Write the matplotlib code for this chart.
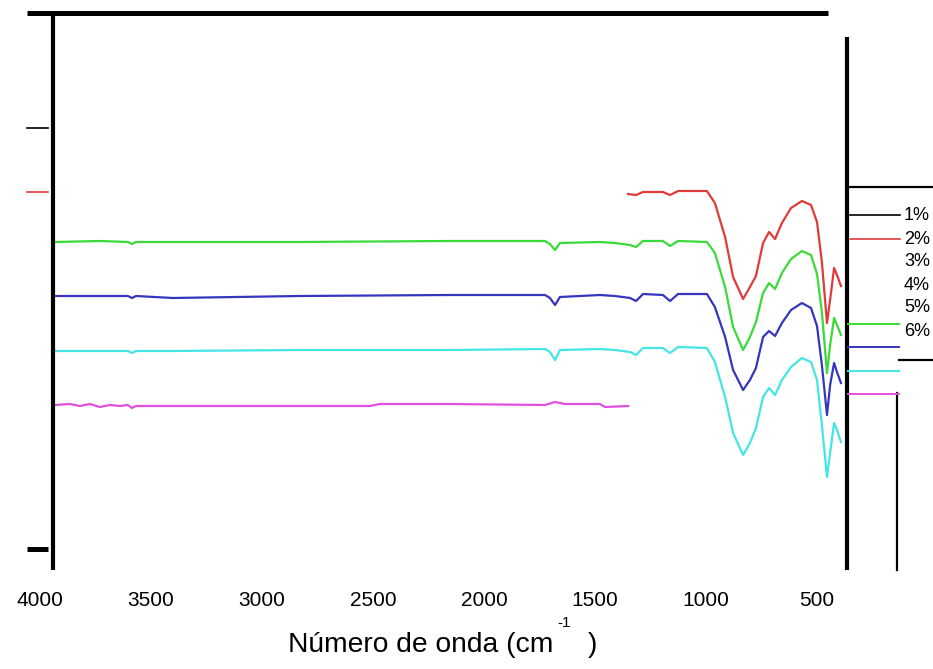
import matplotlib
matplotlib.use('Agg')
import matplotlib.pyplot as plt

plt.rcParams['font.family'] = ['Liberation Sans', 'DejaVu Sans']

# numero de onda (cm-1) de los puntos leidos
onda = [3932, 3730, 3604, 3586, 3568, 3401, 2829, 2153, 1725, 1703, 1680, 1658,
        1478, 1410, 1342, 1315, 1284, 1194, 1162, 1126, 996, 960, 914, 878, 833,
        802, 775, 743, 716, 689, 658, 617, 568, 527, 500, 478, 455, 441, 423, 410, 392]

verde = [42.7, 42.8, 42.7, 42.5, 42.7, 42.7, 42.7, 42.8, 42.8, 42.5, 41.9, 42.6,
         42.7, 42.6, 42.4, 42.2, 42.8, 42.8, 42.3, 42.8, 42.7, 41.6, 38.2, 34.2, 31.9,
         33.2, 34.7, 37.6, 38.6, 38.0, 39.6, 41.0, 41.8, 41.4, 39.5, 35.7, 29.6, 32.4, 35.1, 34.4, 33.4]

azul = [37.3, 37.3, 37.3, 37.1, 37.3, 37.1, 37.3, 37.4, 37.4, 37.1, 36.4, 37.2,
        37.4, 37.3, 37.1, 36.8, 37.5, 37.4, 36.8, 37.5, 37.5, 36.2, 33.2, 29.9, 27.9,
        28.9, 30.1, 33.2, 33.8, 33.3, 34.6, 35.9, 36.6, 36.1, 34.3, 30.4, 25.4, 28.4, 30.6, 29.7, 28.6]

cian = [31.8, 31.8, 31.8, 31.6, 31.8, 31.8, 31.9, 31.9, 32.0, 31.7, 30.9, 31.9,
        32.0, 31.9, 31.7, 31.4, 32.1, 32.1, 31.6, 32.2, 32.1, 30.7, 27.2, 23.6, 21.4,
        22.6, 24.1, 27.2, 28.1, 27.4, 28.9, 30.2, 31.1, 30.7, 28.9, 24.4, 19.2, 21.6, 24.6, 23.9, 22.7]

onda_rojo = [1351] + onda[15:]
rojo = [47.5, 47.4, 47.7, 47.7, 47.4, 47.8, 47.8, 46.6, 43.2, 39.2, 37.0,
        38.2, 39.3, 42.6, 43.7, 43.0, 44.6, 46.1, 46.8, 46.4, 44.7, 40.7, 34.6, 36.9, 40.1, 39.4, 38.3]

onda_magenta = [3932, 3865, 3820, 3775, 3730, 3685, 3640, 3604, 3586, 3568, 3401,
                2829, 2514, 2469, 2153, 1725, 1680, 1635, 1478, 1455, 1351]
magenta = [26.4, 26.5, 26.3, 26.5, 26.2, 26.4, 26.3, 26.4, 26.1, 26.3, 26.3,
           26.3, 26.3, 26.5, 26.5, 26.4, 26.7, 26.5, 26.5, 26.2, 26.3]

ticks = [4000, 3500, 3000, 2500, 2000, 1500, 1000, 500]
etiquetas = ['1%', '2%', '3%', '4%', '5%', '6%']

W, H = 933, 669
fig = plt.figure(figsize=(W / 100, H / 100), dpi=100)

# ejes del espectro
ax = fig.add_axes([0, (H - 570) / H, 1, 570 / H])
ax.set_xlim(4180.2, -22.5)
ax.set_ylim(9.9, 66.9)
ax.plot(onda_rojo, rojo, color='#e03a3a', lw=1.6)
ax.plot(onda, verde, color='#3ada3a', lw=1.6)
ax.plot(onda, azul, color='#3535c0', lw=1.6)
ax.plot(onda, cian, color='#45e5e5', lw=1.6)
ax.plot(onda_magenta, magenta, color='#e050e0', lw=1.6)
for s in ax.spines.values():
    s.set_visible(False)
ax.set_yticks([])
ax.set_xticks(ticks)
ax.set_xticklabels([str(t) for t in ticks], fontsize=15)
ax.tick_params(axis='x', length=0, pad=15)
ax.patch.set_alpha(0)

# capa de dibujo en pixeles para los marcos sueltos
ov = fig.add_axes([0, 0, 1, 1], zorder=3)
ov.set_xlim(0, W)
ov.set_ylim(H, 0)
ov.axis('off')
ov.patch.set_alpha(0)

ov.plot([27, 828], [13, 13], color='black', lw=3.6, solid_capstyle='butt')
ov.plot([52.5, 52.5], [16, 570], color='black', lw=3, solid_capstyle='butt')
ov.plot([847, 847], [37, 570], color='black', lw=3, solid_capstyle='butt')
ov.plot([27, 48], [128, 128], color='black', lw=1.2)
ov.plot([27, 48], [192, 192], color='#e03a3a', lw=1.2)
ov.plot([27, 48], [549, 549], color='black', lw=3.6, solid_capstyle='butt')

# restos de la leyenda
ov.plot([849, 933], [187, 187], color='black', lw=1.6)
ov.plot([899, 933], [360, 360], color='black', lw=1.6)
ov.plot([897, 897], [393, 570], color='black', lw=1.6)
ov.plot([850, 900], [215, 215], color='black', lw=1.2)
ov.plot([850, 900], [239, 239], color='#e03a3a', lw=1.2)
ov.plot([848, 899], [324, 324], color='#3ada3a', lw=1.4)
ov.plot([848, 899], [347, 347], color='#3535c0', lw=1.4)
ov.plot([848, 899], [371, 371], color='#45e5e5', lw=1.4)
ov.plot([848, 899], [394, 394], color='#e050e0', lw=1.4)
for i, txt in enumerate(etiquetas):
    ov.text(904, 216 + i * 23, txt, fontsize=13, va='center', ha='left')

# titulo del eje x
ov.text(288, 652, 'Número de onda (cm', fontsize=20.3, ha='left', va='baseline')
ov.text(557, 627, '-1', fontsize=11, ha='left', va='baseline')
ov.text(588, 652, ')', fontsize=20.3, ha='left', va='baseline')

fig.savefig('out.png', dpi=100)
